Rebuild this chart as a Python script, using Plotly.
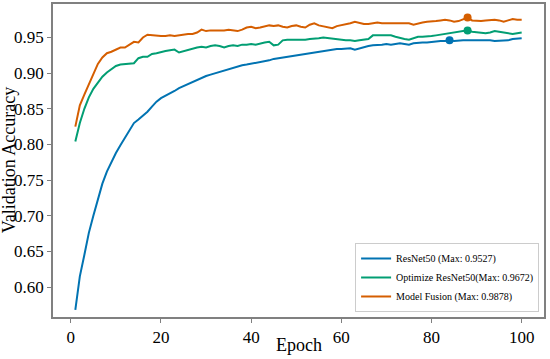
import plotly.graph_objects as go

epochs = list(range(1, 101))

resnet50 = [0.568, 0.615, 0.645, 0.676, 0.700, 0.722, 0.745, 0.762, 0.776, 0.788,
            0.799, 0.810, 0.820, 0.830, 0.835, 0.840, 0.846, 0.853, 0.860, 0.865,
            0.868, 0.871, 0.875, 0.879, 0.882, 0.885, 0.888, 0.891, 0.893, 0.896,
            0.898, 0.900, 0.902, 0.903, 0.905, 0.907, 0.909, 0.911, 0.912, 0.913,
            0.914, 0.915, 0.916, 0.918, 0.920, 0.921, 0.922, 0.923, 0.924, 0.925,
            0.926, 0.927, 0.929, 0.930, 0.930, 0.931, 0.932, 0.933, 0.934, 0.934,
            0.935, 0.935, 0.933, 0.935, 0.937, 0.938, 0.939, 0.939, 0.940, 0.941,
            0.940, 0.941, 0.942, 0.941, 0.940, 0.942, 0.943, 0.943, 0.943, 0.944,
            0.944, 0.945, 0.945, 0.946, 0.945, 0.946, 0.946, 0.946, 0.946, 0.947,
            0.946, 0.946, 0.946, 0.945, 0.945, 0.945, 0.946, 0.948, 0.949, 0.949]

optimize = [0.804, 0.830, 0.850, 0.866, 0.878, 0.886, 0.895, 0.901, 0.906, 0.910,
            0.912, 0.913, 0.914, 0.914, 0.921, 0.923, 0.923, 0.927, 0.928, 0.930,
            0.931, 0.932, 0.933, 0.929, 0.931, 0.933, 0.935, 0.936, 0.937, 0.936,
            0.938, 0.939, 0.938, 0.936, 0.938, 0.939, 0.938, 0.940, 0.940, 0.941,
            0.940, 0.942, 0.943, 0.944, 0.939, 0.940, 0.946, 0.947, 0.947, 0.947,
            0.946, 0.947, 0.948, 0.948, 0.949, 0.950, 0.949, 0.948, 0.948, 0.947,
            0.946, 0.946, 0.945, 0.946, 0.947, 0.948, 0.953, 0.953, 0.954, 0.954,
            0.953, 0.951, 0.949, 0.948, 0.947, 0.949, 0.951, 0.951, 0.951, 0.952,
            0.953, 0.954, 0.955, 0.955, 0.956, 0.957, 0.958, 0.960, 0.958, 0.957,
            0.957, 0.956, 0.957, 0.959, 0.958, 0.957, 0.955, 0.955, 0.956, 0.957]

fusion = [0.825, 0.855, 0.870, 0.884, 0.898, 0.913, 0.922, 0.928, 0.930, 0.933,
          0.936, 0.936, 0.940, 0.944, 0.943, 0.950, 0.954, 0.953, 0.952, 0.952,
          0.952, 0.953, 0.952, 0.953, 0.955, 0.955, 0.955, 0.957, 0.961, 0.959,
          0.960, 0.960, 0.959, 0.960, 0.961, 0.960, 0.959, 0.961, 0.964, 0.965,
          0.963, 0.964, 0.966, 0.967, 0.966, 0.967, 0.965, 0.964, 0.966, 0.967,
          0.965, 0.964, 0.968, 0.970, 0.967, 0.966, 0.964, 0.963, 0.966, 0.967,
          0.968, 0.970, 0.972, 0.970, 0.969, 0.969, 0.970, 0.971, 0.970, 0.970,
          0.971, 0.970, 0.971, 0.970, 0.970, 0.968, 0.970, 0.971, 0.972, 0.972,
          0.973, 0.974, 0.975, 0.974, 0.972, 0.973, 0.975, 0.978, 0.974, 0.973,
          0.973, 0.974, 0.975, 0.975, 0.974, 0.972, 0.974, 0.976, 0.975, 0.975]

series_names = ["ResNet50 (Max: 0.9527)", "Optimize ResNet50(Max: 0.9672)", "Model Fusion (Max: 0.9878)"]
series_values = [resnet50, optimize, fusion]
series_colors = ["#0173B2", "#029E73", "#D55E00"]
marker_epochs = [84, 88, 88]

x_ticks = [0, 20, 40, 60, 80, 100]
y_ticks = [0.60, 0.65, 0.70, 0.75, 0.80, 0.85, 0.90, 0.95]
x_title = "Epoch"
y_title = "Validation Accuracy"

SERIF = "Liberation Serif, Times New Roman, serif"

fig = go.Figure()
for name, vals, col in zip(series_names, series_values, series_colors):
    fig.add_trace(go.Scatter(x=epochs, y=vals, mode="lines", name=name,
                             line=dict(color=col, width=2)))
for vals, col, me in zip(series_values, series_colors, marker_epochs):
    fig.add_trace(go.Scatter(x=[me], y=[vals[me - 1]], mode="markers", showlegend=False,
                             marker=dict(color=col, size=8)))

axis_common = dict(showline=True, mirror=True, linecolor="#808080", linewidth=1.5,
                   ticks="outside", ticklen=4, tickcolor="#808080", tickwidth=1.2,
                   showgrid=False, zeroline=False, automargin=False,
                   tickfont=dict(family=SERIF, size=17, color="black"))

fig.update_layout(
    width=550, height=359,
    margin=dict(l=53, r=6, t=4, b=42),
    paper_bgcolor="white", plot_bgcolor="white",
    font=dict(family=SERIF, color="black"),
    xaxis=dict(range=[-3.95, 104.95], tickvals=x_ticks, **axis_common),
    yaxis=dict(range=[0.558, 0.997], tickvals=y_ticks, tickformat=".2f", **axis_common),
    legend=dict(x=0.99, y=0.016, xanchor="right", yanchor="bottom",
                bgcolor="white", bordercolor="#cccccc", borderwidth=1,
                font=dict(family=SERIF, size=10, color="black"),
                tracegroupgap=0, itemwidth=30),
    showlegend=True,
    annotations=[
        dict(text=x_title, xref="paper", yref="paper", x=0.5, y=-0.09,
             xanchor="center", yanchor="middle", showarrow=False,
             font=dict(family=SERIF, size=18, color="black")),
        dict(text=y_title, xref="paper", yref="paper", x=-0.09, y=0.5,
             xanchor="center", yanchor="middle", showarrow=False, textangle=-90,
             font=dict(family=SERIF, size=18, color="black")),
    ],
)

fig.write_html("out.html", config={"displayModeBar": False},
               post_script="document.body.style.margin='0px';")
